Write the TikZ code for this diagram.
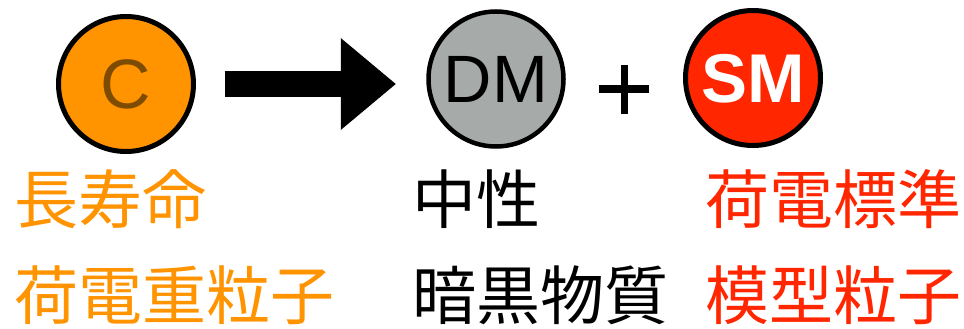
\documentclass[tikz,border=0pt]{standalone}
\usepackage{fontspec}
\newfontfamily\cjk{Noto Sans CJK JP}
\newfontfamily\hel{Liberation Sans}
\usetikzlibrary{arrows.meta}
\definecolor{corange}{RGB}{255,147,0}
\definecolor{cred}{RGB}{255,38,0}
\definecolor{cgray}{RGB}{166,170,169}
\definecolor{cbrown}{RGB}{125,76,0}
\tikzset{
  particle/.style={circle, draw=black, line width=5pt, inner sep=0pt, minimum size=135pt},
  ptext/.style={font=\hel\fontsize{70}{70}\selectfont, inner sep=0pt},
  label/.style={font=\cjk\fontsize{64}{64}\selectfont, inner sep=0pt, anchor=base west},
}
\begin{document}
\begin{tikzpicture}[x=1pt,y=-1pt]
\useasboundingbox (0,0) rectangle (964,329);
% particles
\node[particle, fill=corange] (C) at (126,84) {};
\node[particle, fill=cgray, line width=4.5pt] (DM) at (496,79) {};
\node[particle, fill=cred] (SM) at (753,78) {};
\node[ptext, text=cbrown] (Ct) at (C.center) {C};
\node[ptext, text=black, font=\hel\fontsize{67}{67}\selectfont] (DMt) at (DM.center) {DM};
\node[ptext, text=white, font=\hel\bfseries\fontsize{69}{69}\selectfont] (SMt) at ([yshift=-1pt]SM.center) {SM};
% arrow
\draw[line width=25pt, shorten <=28.5pt, shorten >=30.5pt,
  -{Triangle[width=92pt, length=55pt, line width=0pt]}]
  (C.east) -- (C.east -| DM.west);
% plus
\coordinate (plus) at (624,89);
\draw[line width=8pt] ([xshift=-25pt]plus) -- ([xshift=25pt]plus);
\draw[line width=7pt] ([yshift=-25pt]plus) -- ([yshift=24pt]plus);
% labels
\node[label, text=corange] (l1) at (14,223) {長寿命};
\node[label, text=corange] (l2) at (14,319) {荷電重粒子};
\node[label, text=black] (m1) at (412,223) {中性};
\node[label, text=black] (m2) at (412,319) {暗黒物質};
\node[label, text=cred] (r1) at (705,223) {荷電標準};
\node[label, text=cred] (r2) at (705,319) {模型粒子};
\end{tikzpicture}
\end{document}
